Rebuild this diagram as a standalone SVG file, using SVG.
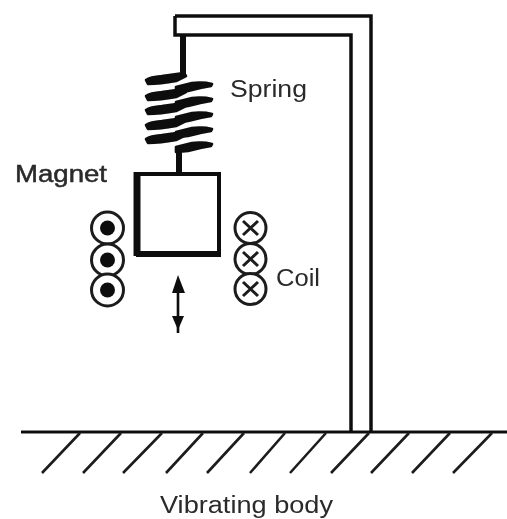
<svg xmlns="http://www.w3.org/2000/svg" width="507" height="519" viewBox="0 0 507 519">
<defs>
<style>
.l{fill:none;stroke:#111;stroke-linecap:butt}
.c{fill:#fff;stroke:#1c1c1c;stroke-width:3}
.t{font-family:"Liberation Sans",Arial,sans-serif;font-size:23px;fill:#2a2a2a}
.h{stroke:#1c1c1c;stroke-width:2.6;fill:none}
.x{stroke:#1c1c1c;stroke-width:3}
.s{fill:#0a0a0a;stroke:#0a0a0a;stroke-width:2.6;stroke-linejoin:round}
</style>
<filter id="b" x="-2%" y="-2%" width="104%" height="104%"><feGaussianBlur stdDeviation="0.55"/></filter>
<path id="lc" d="M146 0Q150 -3 162 -4L184 -7L186 -4L176 1Q160 4 148 4Z"/>
<path id="rc" d="M176 2L192 -2Q204 -3 212 -1L211 1Q198 3 188 6L176 7Z"/>
</defs>
<rect width="507" height="519" fill="#fff"/>
<g filter="url(#b)">
<g id="frame">
<path class="l" stroke-width="3.5" d="M175 16H371V432"/>
<path class="l" stroke-width="3.5" d="M175 16V35H351V432"/>
</g>
<g id="spring">
<path class="l" stroke-width="6" d="M183 36V76"/>
<path class="l" stroke-width="6" d="M179 148V173"/>
<g class="s">
<use href="#lc" y="80"/><use href="#lc" y="96"/><use href="#lc" y="110"/><use href="#lc" y="125"/><use href="#lc" y="139"/>
<use href="#rc" y="85"/><use href="#rc" y="100"/><use href="#rc" y="115"/><use href="#rc" y="130"/><use href="#rc" y="145"/>
</g>
</g>
<g id="magnet">
<rect x="138" y="174" width="81" height="80" fill="#fff" stroke="#111" stroke-width="4"/>
<path class="l" stroke-width="7" d="M137 172V256"/>
<path class="l" stroke-width="6" d="M136 254H221"/>
<text class="t" x="15" y="182" textLength="92" lengthAdjust="spacingAndGlyphs" stroke="#2a2a2a" stroke-width="0.5">Magnet</text>
</g>
<g id="coil-left">
<circle class="c" cx="107.500" cy="228" r="16"/>
<circle class="c" cx="107.500" cy="260" r="16"/>
<circle class="c" cx="107.500" cy="290" r="16"/>
<circle cx="107.500" cy="228" r="7.500" fill="#111"/>
<circle cx="107.500" cy="260" r="7.500" fill="#111"/>
<circle cx="107.500" cy="290" r="7.500" fill="#111"/>
</g>
<g id="coil-right">
<circle class="c" cx="250.500" cy="228" r="15.500"/>
<circle class="c" cx="250.500" cy="259" r="15.500"/>
<circle class="c" cx="250.500" cy="289" r="15.500"/>
<path class="x" d="M243 221L258 235M258 221L243 235M243 252L258 266M258 252L243 266M243 282L258 296M258 282L243 296"/>
<text class="t" x="276" y="286" textLength="44" lengthAdjust="spacingAndGlyphs">Coil</text>
</g>
<g id="connectors">
<path stroke="#111" stroke-width="2.6" d="M178 284V333"/>
<path fill="#111" d="M178 275L185 293H172zM178 330L184 316H172z"/>
</g>
<g id="spring-label"><text class="t" x="230" y="97" textLength="77" lengthAdjust="spacingAndGlyphs">Spring</text></g>
<g id="body">
<path class="l" stroke="#222" stroke-width="3.2" d="M21 432H507"/>
<path class="h" d="M80 433L42 473M121 433L83 473M162 433L123 473M203 433L166 473M244 433L207 473M285 433L250 473M326 433L290 473M369 433L331 473M409 433L371 473M450 433L412 473M492 433L453 473"/>
<text class="t" x="160" y="513" textLength="173" lengthAdjust="spacingAndGlyphs">Vibrating body</text>
</g>
</g>
</svg>
